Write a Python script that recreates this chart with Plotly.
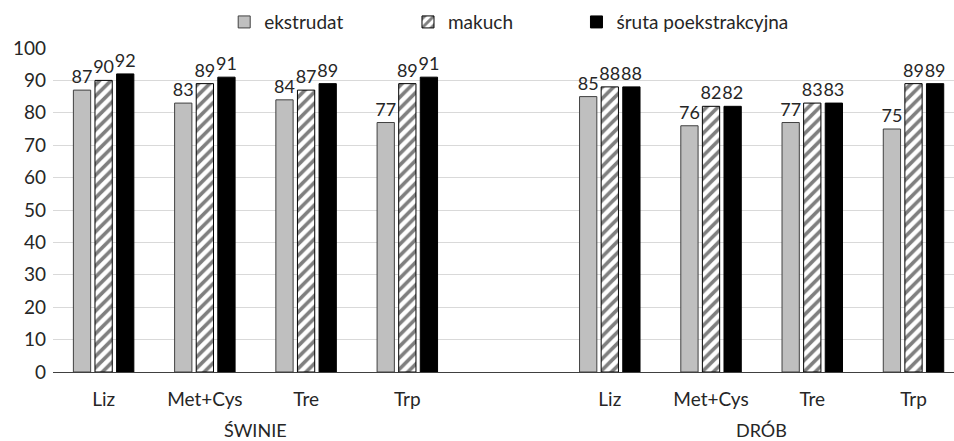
import plotly.graph_objects as go

groups = ["ŚWINIE", "DRÓB"]
amino = ["Liz", "Met+Cys", "Tre", "Trp"]
series_names = ["ekstrudat", "makuch", "śruta poekstrakcyjna"]

ekstrudat = [87, 83, 84, 77, 85, 76, 77, 75]
makuch = [90, 89, 87, 89, 88, 82, 83, 89]
sruta = [92, 91, 89, 91, 88, 82, 83, 89]

y_ticks = [0, 10, 20, 30, 40, 50, 60, 70, 80, 90, 100]

# x positions: 4 categories per group, one empty slot between groups
xpos = []
ticktext = []
for gi, g in enumerate(groups):
    for ai, a in enumerate(amino):
        xpos.append(gi * (len(amino) + 1) + ai)
        ticktext.append(a)

FONT = "Lato"
TXT = "#262626"
FS = 19

fig = go.Figure()
styles = [
    dict(color="#bfbfbf", line=dict(color="#404040", width=1)),
    dict(color="white", line=dict(color="black", width=1),
         pattern=dict(shape="/", fgcolor="black", bgcolor="white", size=8, solidity=0.45)),
    dict(color="black", line=dict(color="black", width=1)),
]
legend_ids = ["legend", "legend2", "legend3"]
legend_x = [0.190, 0.394, 0.581]
for name, vals, st, lg in zip(series_names, [ekstrudat, makuch, sruta], styles, legend_ids):
    fig.add_trace(go.Bar(
        x=xpos, y=vals, name=name, marker=st, legend=lg,
        text=[str(v) for v in vals], textposition="outside",
        textfont=dict(family=FONT, size=18, color=TXT),
        constraintext="none", cliponaxis=False,
    ))

for gi, g in enumerate(groups):
    center = gi * (len(amino) + 1) + (len(amino) - 1) / 2
    fig.add_annotation(x=center, xref="x", y=-0.178, yref="paper",
                       text=g, showarrow=False, yanchor="middle",
                       font=dict(family=FONT, size=18, color=TXT))

leg_common = dict(orientation="h", xanchor="left", y=1.08, yanchor="middle",
                  font=dict(family=FONT, size=FS, color=TXT), bgcolor="rgba(0,0,0,0)")
fig.update_layout(
    width=954, height=441,
    margin=dict(l=53, r=0, t=48, b=69),
    paper_bgcolor="white", plot_bgcolor="white",
    barmode="group", bargap=0.36, bargroupgap=0.2,
    font=dict(family=FONT, size=FS, color=TXT),
    showlegend=True,
    legend=dict(x=legend_x[0], **leg_common),
    legend2=dict(x=legend_x[1], **leg_common),
    legend3=dict(x=legend_x[2], **leg_common),
    xaxis=dict(range=[-0.5, 8.4], tickvals=xpos, ticktext=ticktext,
               showgrid=False, showline=True, linecolor="#404040", linewidth=1,
               ticks="", ticklabelstandoff=10, zeroline=False,
               tickfont=dict(family=FONT, size=FS, color=TXT)),
    yaxis=dict(range=[0, 100], tickvals=y_ticks, showgrid=True, gridcolor="#d9d9d9",
               gridwidth=1, zeroline=False, showline=False, ticks="",
               ticklabelstandoff=6,
               tickfont=dict(family=FONT, size=FS, color=TXT)),
)

fig.write_html("out.html", config={"displayModeBar": False},
               post_script="document.body.style.margin='0';document.body.style.overflow='hidden';")
